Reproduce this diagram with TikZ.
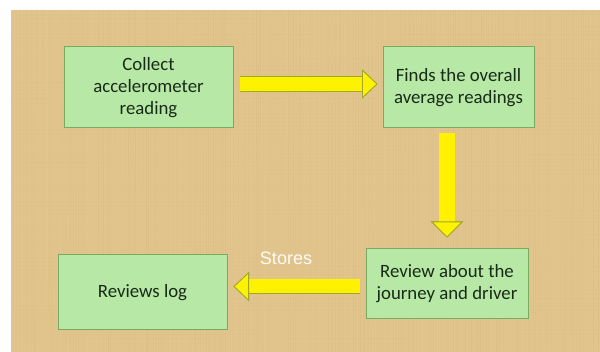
\documentclass[tikz,border=0pt]{standalone}
\usepackage{fontspec}
\setmainfont{Carlito}
\newfontfamily\storesfont{Liberation Sans}
\usetikzlibrary{arrows.meta}
\definecolor{paper}{RGB}{225,197,141}
\definecolor{fiber}{RGB}{200,168,112}
\definecolor{boxfill}{RGB}{183,232,165}
\definecolor{boxline}{RGB}{118,172,98}
\definecolor{boxtext}{RGB}{24,42,24}
\definecolor{arrowline}{RGB}{160,168,40}
\begin{document}
\begin{tikzpicture}[x=1pt,y=-1pt,
bx/.style = {draw=boxline,fill=boxfill,line width=1pt,inner sep=0pt,align=center,
  text=boxtext,font=\fontsize{18.8}{22}\selectfont},
blk/.style = {line width=14pt,draw=yellow,preaction={draw=arrowline,line width=15.6pt},
  -{Triangle[length=15.5pt,width=29pt,line width=0.8pt,fill=yellow,color=arrowline]}}
]
  \useasboundingbox (0,0) rectangle (600,352);
  % papyrus background
  \fill[paper] (11,10) rectangle (600,352);
  \pgfmathsetseed{7}
  \foreach \i in {13,15.5,...,598}
    \draw[fiber,line width=0.5pt,opacity={0.05+0.2*rnd}] ({\i+rnd},10) -- ({\i+rnd},352);
  \foreach \j in {14,18,...,350}
    \draw[fiber,line width=0.4pt,opacity={0.03+0.08*rnd}] (11,{\j+rnd}) -- (600,{\j+rnd});

  \node[bx,minimum width=169pt,minimum height=81pt] (collect) at (148.5,87.5)
    {Collect\\accelerometer\\reading};
  \node[bx,minimum width=151pt,minimum height=81pt] (finds) at (458.5,87.5)
    {Finds the overall\\average readings};
  \node[bx,minimum width=162pt,minimum height=70pt] (review) at (447,284)
    {Review about the\\journey and driver};
  \node[bx,minimum width=169pt,minimum height=75pt] (logs) at (142.5,292.5)
    {Reviews log};

  \draw[blk] ([xshift=6pt,yshift=3.5pt]collect.east) -- ([xshift=-5pt,yshift=3.5pt]finds.west);
  \draw[blk,line width=16pt,preaction={line width=17.6pt},
    -{Triangle[length=16pt,width=32pt,line width=0.8pt,fill=yellow,color=arrowline]}]
    ([xshift=-11.5pt,yshift=-5pt]finds.south) -- ([yshift=11pt]review.north);
  \draw[blk] ([xshift=-6pt,yshift=-2.5pt]review.west) -- ([xshift=6pt,yshift=6pt]logs.east);

  \node[text=white!95!paper,font=\storesfont\fontsize{18}{20}\selectfont] (stores) at (286,258) {Stores};
\end{tikzpicture}
\end{document}
